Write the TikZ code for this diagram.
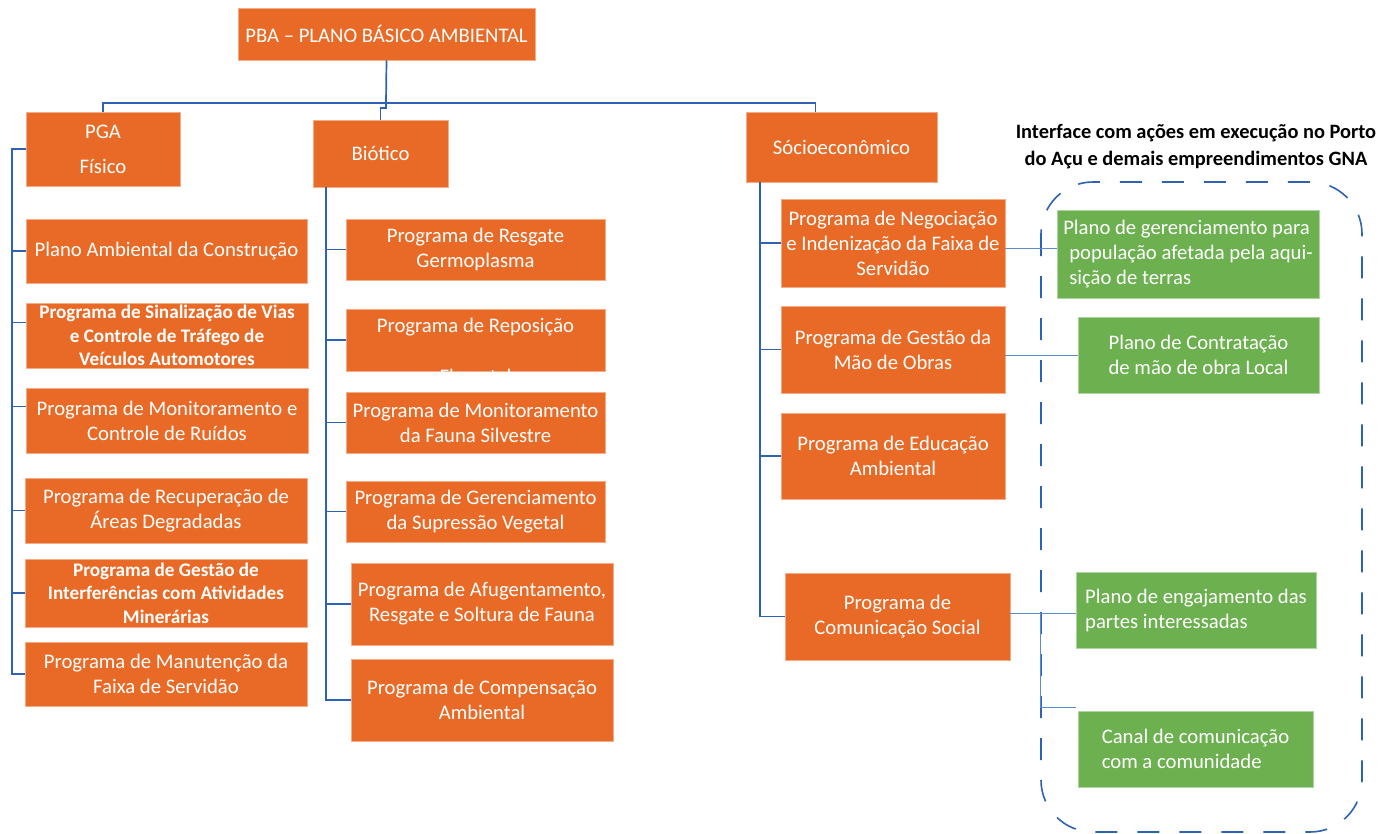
\documentclass[tikz,border=0pt]{standalone}
\usepackage{fontspec}
\setmainfont{Carlito}
\usepackage{tikz}
\usepackage{xcolor}
\definecolor{laranja}{RGB}{232,106,38}
\definecolor{verde}{RGB}{108,176,80}
\definecolor{azul}{RGB}{46,98,178}
\definecolor{azulclaro}{RGB}{92,140,205}

\begin{document}
\begin{tikzpicture}[x=1pt, y=-1pt,
        prog/.style={fill=laranja, draw=laranja!55!white, line width=0.6pt, text=white, inner sep=0pt, align=center, font=\fontsize{20.7}{25}\selectfont},
        progbf/.style={prog, font=\fontsize{19.2}{23.5}\selectfont\bfseries},
        plano/.style={prog, fill=verde, draw=verde!55!white},
        tree/.style={draw=azul, line width=1.7pt},
        link/.style={draw=azulclaro, line width=0.9pt},
        zone/.style={draw=azul, line width=1.6pt, dash pattern=on 22pt off 20pt, rounded corners=52pt}]
        \useasboundingbox (0,0) rectangle (1382,833);
        \node [prog, minimum width=297, minimum height=52] (pba) at (386.5,34) {PBA – PLANO BÁSICO AMBIENTAL};
        \node [prog, minimum width=154, minimum height=74] (pga) at (103,149) {PGA\\[10pt]Físico};
        \node [prog, minimum width=135, minimum height=67] (bio) at (380.5,153.5) {Biótico};
        \node [prog, minimum width=191, minimum height=70] (soc) at (841.5,147) {Sócioeconômico};

        \node [prog, minimum width=281, minimum height=64] (f1) at (166.5,251) {Plano Ambiental da Construção};
        \node [progbf, minimum width=282, minimum height=65] (f2) at (167,335.5) {Programa de Sinalização de Vias\\e Controle de Tráfego de\\Veículos Automotores};
        \node [prog, minimum width=282, minimum height=65] (f3) at (167,420.5) {Programa de Monitoramento e\\Controle de Ruídos};
        \node [prog, minimum width=282, minimum height=65] (f4) at (166,510.5) {Programa de Recuperação de\\Áreas Degradadas};
        \node [progbf, minimum width=282, minimum height=68] (f5) at (166,593) {Programa de Gestão de\\Interferências com Atividades\\Minerárias};
        \node [prog, minimum width=282, minimum height=64] (f6) at (166,674) {Programa de Manutenção da\\Faixa de Servidão};

        \node [prog, minimum width=259, minimum height=61] (b1) at (475.5,249.5) {Programa de Resgate\\Germoplasma};
        \node [prog, minimum width=259, minimum height=62] (b2) at (475.5,340) {};
        \node [prog, draw=none, fill=none] (b2a) at (475.5,327) {Programa de Reposição};
        \begin{scope}
                \clip (b2.south west) rectangle (b2.north east);
                \node [prog, draw=none, fill=none] (b2b) at (475.5,376) {Florestal};
        \end{scope}
        \node [prog, minimum width=259, minimum height=61] (b3) at (475.5,422.5) {Programa de Monitoramento\\da Fauna Silvestre};
        \node [prog, minimum width=259, minimum height=61] (b4) at (475.5,511.5) {Programa de Gerenciamento\\da Supressão Vegetal};
        \node [prog, minimum width=262, minimum height=82] (b5) at (482,604) {Programa de Afugentamento,\\Resgate e Soltura de Fauna};
        \node [prog, minimum width=262, minimum height=82] (b6) at (482,700) {Programa de Compensação\\Ambiental};

        \node [prog, minimum width=224, minimum height=88] (s1) at (893,243) {Programa de Negociação\\e Indenização da Faixa de\\Servidão};
        \node [prog, minimum width=224, minimum height=87] (s2) at (893,349.5) {Programa de Gestão da\\Mão de Obras};
        \node [prog, minimum width=224, minimum height=86] (s3) at (893,456) {Programa de Educação\\Ambiental};
        \node [prog, minimum width=225, minimum height=87] (s4) at (897.5,616.5) {Programa de\\Comunicação Social};

        \node [font=\fontsize{20.4}{27}\selectfont\bfseries, align=center, inner sep=0pt] (gna) at (1196,147) {Interface com ações em execução no Porto\\do Açu e demais empreendimentos GNA};
        \draw [zone] (1041,182) rectangle (1362,832);

        \node [plano, minimum width=262, minimum height=88, align=left] (g1) at (1188,254) {Plano de gerenciamento para\\\hspace*{6pt}população afetada pela aqui-\\\hspace*{6pt}sição de terras};
        \node [plano, minimum width=241, minimum height=76] (g2) at (1198.5,355) {Plano de Contratação\\de mão de obra Local};
        \node [plano, minimum width=240, minimum height=76, align=left] (g3) at (1196,610) {Plano de engajamento das\\partes interessadas};
        \node [plano, minimum width=235, minimum height=76, align=left] (g4) at (1195.5,749) {Canal de comunicação\\com a comunidade};

        \coordinate (bus) at (386,103);
        \draw [tree] (pba.south) -- (bus);
        \draw [tree] (pga.north) |- (bus) -| ([xshift=-26pt]soc.north);
        \draw [tree] (bus) -- ++(0,5) -| (bio.north);

        \coordinate (pspine) at (12,149);
        \draw [tree] (pga.west) -- (pspine) |- (f6.west);
        \draw [tree] (f1.west) -- (f1.west -| pspine);
        \draw [tree] ([yshift=13pt]f2.west) -- ([yshift=13pt]f2.west -| pspine);
        \draw [tree] ([yshift=14pt]f3.west) -- ([yshift=14pt]f3.west -| pspine);
        \draw [tree] (f4.west) -- (f4.west -| pspine);
        \draw [tree] (f5.west) -- (f5.west -| pspine);

        \coordinate (bspine) at (326,187);
        \draw [tree] (bspine) |- (b6.west);
        \draw [tree] (b1.west) -- (b1.west -| bspine);
        \draw [tree] (b2.west) -- (b2.west -| bspine);
        \draw [tree] (b3.west) -- (b3.west -| bspine);
        \draw [tree] (b4.west) -- (b4.west -| bspine);
        \draw [tree] (b5.west) -- (b5.west -| bspine);

        \coordinate (sspine) at (760,182);
        \draw [tree] (sspine) |- (s4.west);
        \draw [tree] (s1.west) -- (s1.west -| sspine);
        \draw [tree] (s2.west) -- (s2.west -| sspine);
        \draw [tree] (s3.west) -- (s3.west -| sspine);

        \coordinate (tap) at (1040,613);
        \coordinate (g4in) at (1076,707);
        \draw [link] ([yshift=-5pt]s1.east) -- ([yshift=-5pt]s1.east -| g1.west);
        \draw [link] (s2.east |- g2.west) -- (g2.west);
        \draw [link] (s4.east |- tap) -- (tap -| g3.west);
        \draw [link] (tap) |- (g4in);
\end{tikzpicture}
\end{document}
